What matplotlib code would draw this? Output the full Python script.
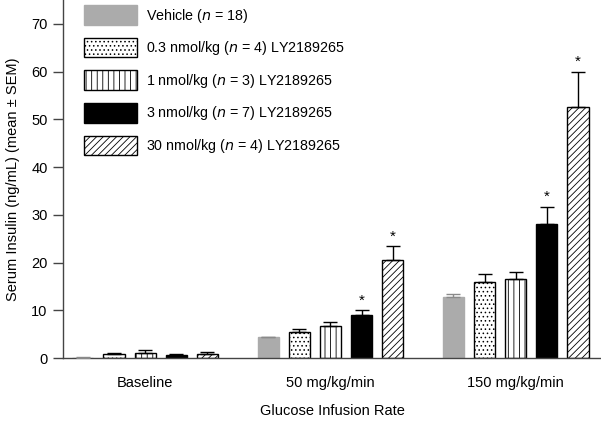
import matplotlib
matplotlib.use("Agg")
import matplotlib.pyplot as plt
import numpy as np

plt.rcParams['font.family'] = ['Liberation Sans', 'DejaVu Sans']
plt.rcParams['hatch.linewidth'] = 0.6

groups = ["Baseline", "50 mg/kg/min", "150 mg/kg/min"]
series = ["Vehicle", "0.3 nmol/kg", "1 nmol/kg", "3 nmol/kg", "30 nmol/kg"]
legend_labels = [r"Vehicle ($n$ = 18)",
                 r"0.3 nmol/kg ($n$ = 4) LY2189265",
                 r"1 nmol/kg ($n$ = 3) LY2189265",
                 r"3 nmol/kg ($n$ = 7) LY2189265",
                 r"30 nmol/kg ($n$ = 4) LY2189265"]
means = {
    "Vehicle":     [0.1, 4.3, 12.7],
    "0.3 nmol/kg": [0.8, 5.5, 15.9],
    "1 nmol/kg":   [1.05, 6.7, 16.6],
    "3 nmol/kg":   [0.55, 9.0, 28.0],
    "30 nmol/kg":  [0.8, 20.5, 52.6],
}
sems = {
    "Vehicle":     [0.05, 0.2, 0.7],
    "0.3 nmol/kg": [0.35, 0.5, 1.8],
    "1 nmol/kg":   [0.55, 0.8, 1.4],
    "3 nmol/kg":   [0.2, 1.0, 3.7],
    "30 nmol/kg":  [0.4, 2.9, 7.4],
}
significant = {
    "3 nmol/kg": [False, True, True],
    "30 nmol/kg": [False, True, True],
}

styles = {
    "Vehicle":     dict(facecolor="#ababab", edgecolor="#ababab", hatch=None),
    "0.3 nmol/kg": dict(facecolor="white", edgecolor="black", hatch="...."),
    "1 nmol/kg":   dict(facecolor="white", edgecolor="black", hatch="|||"),
    "3 nmol/kg":   dict(facecolor="black", edgecolor="black", hatch=None),
    "30 nmol/kg":  dict(facecolor="white", edgecolor="black", hatch="/////"),
}

fig = plt.figure(figsize=(6.01, 4.22), dpi=100)
ax = fig.add_axes([63/601, 1 - 358/422, 1 - 63/601, 358/422])

x = np.arange(len(groups))
width = 0.114
step = 0.168
for i, s in enumerate(series):
    pos = x + (i - 2) * step
    st = styles[s]
    ecol = "#8a8a8a" if s == "Vehicle" else "black"
    ax.bar(pos, means[s], width, facecolor=st["facecolor"], edgecolor=st["edgecolor"],
           hatch=st["hatch"], linewidth=1.0, label=legend_labels[i], zorder=2)
    m = np.array(means[s]); e = np.array(sems[s])
    ax.errorbar(pos, m, yerr=[np.zeros_like(e), e], fmt='none', ecolor=ecol,
                elinewidth=1.0, capsize=5, capthick=1.0, zorder=3)
    if s in significant:
        for j, flag in enumerate(significant[s]):
            if flag:
                ax.annotate("*", (pos[j], m[j] + e[j]), xytext=(0, 2),
                            textcoords="offset points", ha="center", va="bottom",
                            fontsize=11)

ax.set_xlim(-0.443, 2.46)
ax.set_ylim(0, 75)
ax.set_yticks([0, 10, 20, 30, 40, 50, 60, 70])
ax.set_xticks(x)
ax.set_xticklabels(groups, fontsize=10.5)
ax.tick_params(axis='x', length=0, pad=13)
ax.tick_params(axis='y', length=7, width=1, color="#444444", labelsize=10.5, pad=4)
for sp in ["top", "right"]:
    ax.spines[sp].set_visible(False)
for sp in ["left", "bottom"]:
    ax.spines[sp].set_color("#444444")
    ax.spines[sp].set_linewidth(1.0)

ax.set_ylabel("Serum Insulin (ng/mL) (mean ± SEM)", fontsize=10.5, labelpad=8)
ax.set_xlabel("Glucose Infusion Rate", fontsize=10.5, labelpad=10)

leg = ax.legend(loc="upper left", bbox_to_anchor=(84/601, 1 - 5/422),
                bbox_transform=fig.transFigure, frameon=False, fontsize=10.3,
                handlelength=3.7, handleheight=1.75, labelspacing=0.9,
                handletextpad=0.6, borderpad=0, borderaxespad=0)

fig.savefig("out.png", dpi=100)
